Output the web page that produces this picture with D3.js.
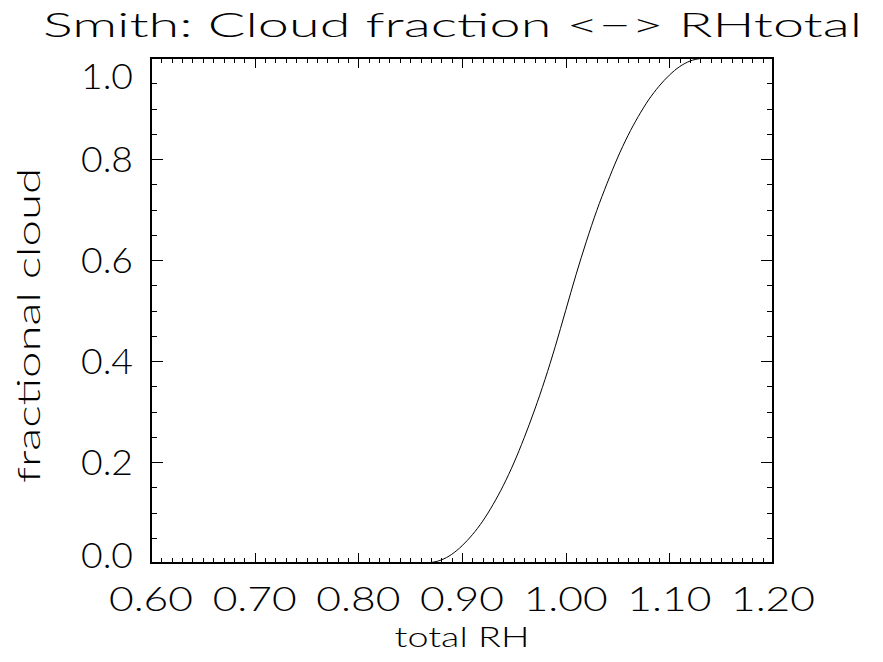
<!DOCTYPE html>
<html>
<head>
<meta charset="utf-8">
<script src="https://cdn.jsdelivr.net/npm/d3@7"></script>
<style>
  html, body { margin: 0; padding: 0; background: #fff; }
  svg { display: block; }
  text { font-family: "Lato", "DejaVu Sans", sans-serif; font-weight: 300; fill: #000; }
</style>
</head>
<body>
<svg id="chart" width="883" height="662"></svg>
<script>
// ---- data ----
const rhValues = [0.60, 0.865, 0.87, 0.88, 0.89, 0.90, 0.91, 0.92, 0.93, 0.94, 0.95, 0.96, 0.97, 0.98, 0.99,
                  1.00, 1.01, 1.02, 1.03, 1.04, 1.05, 1.06, 1.07, 1.08, 1.09, 1.10, 1.11, 1.12, 1.13, 1.135, 1.20];
const cloudFraction = [0.0, 0.0, 0.001, 0.006, 0.017, 0.034, 0.056, 0.083, 0.116, 0.154, 0.198, 0.248, 0.303, 0.363, 0.429,
                  0.50, 0.571, 0.637, 0.698, 0.752, 0.802, 0.846, 0.884, 0.917, 0.944, 0.966, 0.983, 0.994, 0.999, 1.0, 1.0];
const xTickLabels = ["0.60", "0.70", "0.80", "0.90", "1.00", "1.10", "1.20"];
const yTickLabels = ["0.0", "0.2", "0.4", "0.6", "0.8", "1.0"];
const titleText = "Smith: Cloud fraction <\u2212> RHtotal";
const xTitle = "total RH";
const yTitle = "fractional cloud";

// ---- layout ----
const L = 151, R = 773, T = 58, B = 563;
const svg = d3.select("#chart");

const x = d3.scaleLinear().domain([0.6, 1.2]).range([L, R]);
const y = d3.scaleLinear().domain([0, 1]).range([B, T]);

const xMajor = xTickLabels.map(Number);
const yMajor = yTickLabels.map(Number);
const xMinor = d3.range(60, 121, 1).map(v => v / 100);
const yMinor = d3.range(0, 21, 1).map(v => v / 20);

const xLen = 0.02 * (B - T), yLen = 0.02 * (R - L);

function tickAxis(axisGen, scale, vals, len, tx, ty) {
  const g = svg.append("g").attr("transform", `translate(${tx},${ty})`)
    .call(axisGen(scale).tickValues(vals).tickSize(-len).tickFormat(""));
  g.select(".domain").remove();
  g.selectAll("line").attr("stroke", "#000").attr("stroke-width", 1).attr("shape-rendering", "crispEdges");
  g.selectAll("text").remove();
}
// bottom / top
tickAxis(d3.axisBottom, x, xMinor, xLen / 2, 0, B);
tickAxis(d3.axisBottom, x, xMajor, xLen, 0, B);
tickAxis(d3.axisTop, x, xMinor, xLen / 2, 0, T);
tickAxis(d3.axisTop, x, xMajor, xLen, 0, T);
// left / right
tickAxis(d3.axisLeft, y, yMinor, yLen / 2, L, 0);
tickAxis(d3.axisLeft, y, yMajor, yLen, L, 0);
tickAxis(d3.axisRight, y, yMinor, yLen / 2, R, 0);
tickAxis(d3.axisRight, y, yMajor, yLen, R, 0);

// frame
svg.append("rect").attr("x", L).attr("y", T).attr("width", R - L).attr("height", B - T)
  .attr("fill", "none").attr("stroke", "#000").attr("stroke-width", 1.2).attr("shape-rendering", "crispEdges");

// curve
const pts = rhValues.map((v, i) => [v, cloudFraction[i]]);
svg.append("path").datum(pts)
  .attr("d", d3.line().x(d => x(d[0])).y(d => y(d[1])).curve(d3.curveMonotoneX))
  .attr("fill", "none").attr("stroke", "#000").attr("stroke-width", 1);

// x tick labels
svg.append("g").selectAll("text").data(xTickLabels).join("text")
  .attr("x", d => x(+d)).attr("y", 611)
  .attr("text-anchor", "middle").attr("font-size", 34)
  .attr("textLength", 84).attr("lengthAdjust", "spacingAndGlyphs")
  .text(d => d);

// y tick labels
svg.append("g").selectAll("text").data(yTickLabels).join("text")
  .attr("x", 133)
  .attr("y", d => {
    const v = +d;
    let cy = y(v);
    if (v === 1) cy += 18;
    if (v === 0) cy -= 8;
    return cy + 12.5;
  })
  .attr("text-anchor", "end").attr("font-size", 35)
  .attr("textLength", 52).attr("lengthAdjust", "spacingAndGlyphs")
  .text(d => d);

// title
svg.append("text").attr("x", 43).attr("y", 37).attr("font-size", 34)
  .attr("textLength", 819).attr("lengthAdjust", "spacingAndGlyphs").text(titleText);

// axis titles
svg.append("text").attr("x", (L + R) / 2).attr("y", 647).attr("text-anchor", "middle")
  .attr("font-size", 28).attr("textLength", 135).attr("lengthAdjust", "spacingAndGlyphs").text(xTitle);
svg.append("text").attr("transform", `translate(40,${325.5}) rotate(-90)`).attr("text-anchor", "middle")
  .attr("font-size", 32).attr("textLength", 315).attr("lengthAdjust", "spacingAndGlyphs").text(yTitle);
</script>
</body>
</html>
